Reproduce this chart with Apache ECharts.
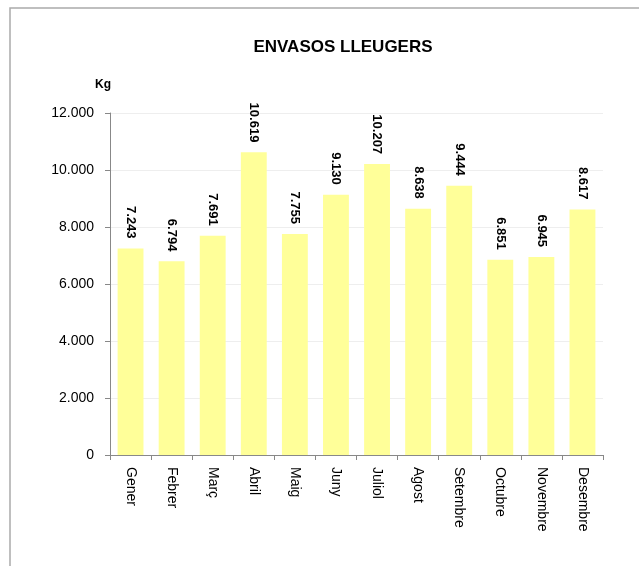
<!DOCTYPE html>
<html><head><meta charset="utf-8">
<script src="https://cdn.jsdelivr.net/npm/echarts@6/dist/echarts.min.js"></script>
<style>html,body{margin:0;padding:0;background:#fff}#c{width:639px;height:566px}</style>
</head><body><div id="c"></div>
<script>
const categories = ['Gener','Febrer','Març','Abril','Maig','Juny','Juliol','Agost','Setembre','Octubre','Novembre','Desembre'];
const values = [7243, 6794, 7691, 10619, 7755, 9130, 10207, 8638, 9444, 6851, 6945, 8617];
const titleText = 'ENVASOS LLEUGERS';
const unitText = 'Kg';

function fmt(v){ return String(v).replace(/\B(?=(\d{3})+(?!\d))/g, '.'); }
const font = '"Liberation Sans", "DejaVu Sans", sans-serif';
const chart = echarts.init(document.getElementById('c'));
chart.setOption({
  backgroundColor: '#fff',
  animation: false,
  textStyle: { fontFamily: font },
  title: { text: titleText, left: 338, textAlign: 'center', top: 34,
    textStyle: { fontSize: 17, fontWeight: 'bold', color: '#000', fontFamily: font } },
  graphic: [
    { type: 'rect', shape: { x: 10, y: 8, width: 700, height: 700 }, style: { fill: 'none', stroke: '#aaa', lineWidth: 1.5 } },
    { type: 'text', left: 95, top: 79, style: { text: unitText, font: 'bold 12px ' + font, fill: '#000' } }
  ],
  grid: { left: 110, top: 113, right: 36, bottom: 111, containLabel: false },
  xAxis: { type: 'category', data: categories,
    axisLine: { lineStyle: { color: '#888' } },
    axisTick: { show: true, length: 5, lineStyle: { color: '#888' } },
    axisLabel: { rotate: -90, color: '#000', fontSize: 14, margin: 12, interval: 0 } },
  yAxis: { type: 'value', min: 0, max: 12000, interval: 2000,
    axisLine: { show: true, lineStyle: { color: '#888' } },
    axisTick: { show: true, length: 5, lineStyle: { color: '#888' } },
    splitLine: { lineStyle: { color: '#eee' } },
    axisLabel: { color: '#000', fontSize: 14, margin: 16, formatter: v => fmt(v) } },
  series: [{ type: 'bar', data: values, barCategoryGap: '37%',
    itemStyle: { color: '#FFFF99' },
    label: { show: true, position: 'top', rotate: -90, align: 'right', verticalAlign: 'middle', distance: 10,
      color: '#000', fontWeight: 'bold', fontSize: 13, formatter: p => fmt(p.value) } }]
});
</script></body></html>
